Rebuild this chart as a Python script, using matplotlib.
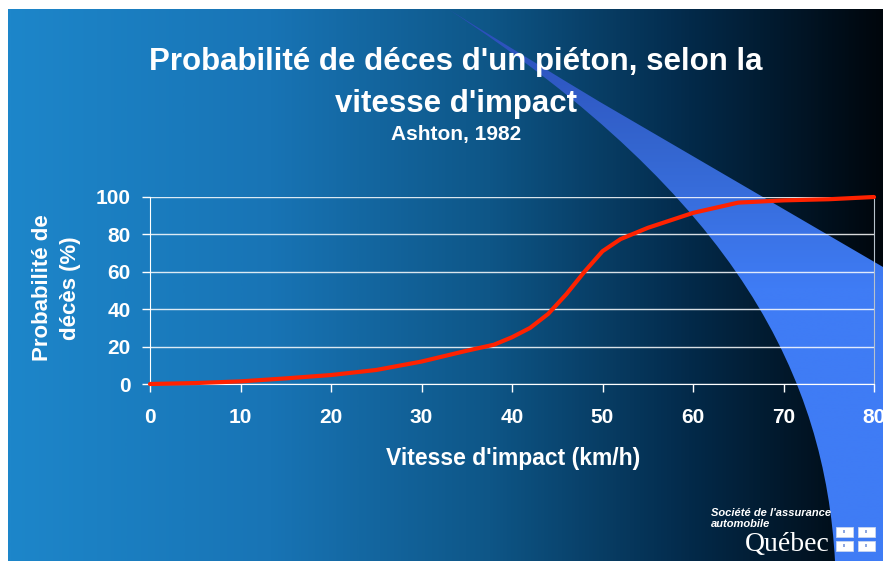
import numpy as np
import matplotlib
matplotlib.use('Agg')
import matplotlib.pyplot as plt
from matplotlib.path import Path
from matplotlib.patches import PathPatch, Rectangle
from matplotlib.colors import LinearSegmentedColormap

plt.rcParams['font.family'] = ['Liberation Sans', 'DejaVu Sans']

# Ashton (1982): probability of pedestrian death vs impact speed
speeds = [0, 5, 10, 15, 20, 25, 30, 35, 38, 40, 42, 44, 46, 48, 50, 52, 55, 60, 65, 70, 75, 80]
deaths = [0, 0.5, 1.4, 3, 4.8, 7.5, 12, 17.8, 21, 25, 30, 37.5, 48, 60, 71, 77.5, 83.5, 91.5, 97, 98.2, 98.8, 100]

x_ticks = list(range(0, 81, 10))
y_ticks = list(range(0, 101, 20))

W, H = 883, 561
fig = plt.figure(figsize=(W / 100, H / 100), dpi=100, facecolor='white')

# slide background, in pixel coords (y down)
bg = fig.add_axes([0, 0, 1, 1])
bg.set_xlim(0, W)
bg.set_ylim(H, 0)
bg.axis('off')

slide_cmap = LinearSegmentedColormap.from_list(
    'slide', [(0, '#1d86ca'), (0.3, '#1874b5'), (0.55, '#0e5687'),
              (0.78, '#032a4a'), (1, '#00060c')])
bg.imshow(np.linspace(0, 1, 512)[None, :], cmap=slide_cmap,
          extent=(8, W, H, 9), aspect='auto', zorder=0)

# blue swoosh on the right
verts = [(448, 9), (740, 200), (825, 380), (835, H), (W, H), (W, 267),
         (600, 102), (530, 60), (448, 9), (448, 9)]
codes = [Path.MOVETO, Path.CURVE4, Path.CURVE4, Path.CURVE4,
         Path.LINETO, Path.LINETO, Path.LINETO, Path.CURVE3, Path.CURVE3,
         Path.CLOSEPOLY]
swoosh = PathPatch(Path(verts, codes), facecolor='none', edgecolor='none')
bg.add_patch(swoosh)
swoosh_cmap = LinearSegmentedColormap.from_list('sw', ['#2b4cb8', '#3466d0', '#3f7cf5'])
yy = np.linspace(9, H, 400)
shade = np.clip((yy - 9) / 280, 0, 1)[:, None]
im = bg.imshow(shade, cmap=swoosh_cmap, extent=(440, W, H, 9), aspect='auto', zorder=1)
im.set_clip_path(swoosh)

# titles
bg.text(456, 70, "Probabilité de déces d'un piéton, selon la", ha='center', va='baseline',
        fontsize=22.5, fontweight='bold', color='white', zorder=5)
bg.text(456, 112, "vitesse d'impact", ha='center', va='baseline',
        fontsize=22.5, fontweight='bold', color='white', zorder=5)
bg.text(456, 140, "Ashton, 1982", ha='center', va='baseline',
        fontsize=15, fontweight='bold', color='white', zorder=5)

# logo
bg.text(711, 516, "Société de l'assurance", ha='left', va='baseline',
        fontsize=8, fontweight='bold', style='italic', color='white', zorder=5)
bg.text(711, 527, "automobile", ha='left', va='baseline',
        fontsize=8, fontweight='bold', style='italic', color='white', zorder=5)
bg.text(830, 551, "Québec", ha='right', va='baseline', fontsize=20,
        family='Liberation Serif', color='white', zorder=5)
for sx in (836, 858):
    for sy in (527, 541):
        bg.add_patch(Rectangle((sx, sy), 17, 10, facecolor='white',
                               edgecolor='#c8d6f0', lw=0.6, zorder=5))
        bg.add_patch(Rectangle((sx + 7, sy + 3), 2, 3, facecolor='#8fa8e0',
                               edgecolor='none', zorder=6))

# chart
ax = fig.add_axes([150 / W, 1 - 384 / H, 724 / W, 187 / H])
ax.set_facecolor('none')
ax.plot(speeds, deaths, color='#ff2200', lw=3, solid_capstyle='round',
        solid_joinstyle='round', zorder=3, clip_on=False)
ax.set_xlim(0, 80)
ax.set_ylim(0, 100)
ax.set_xticks(x_ticks)
ax.set_yticks(y_ticks)
ax.grid(axis='y', color='white', lw=1, alpha=0.85)
ax.set_axisbelow(True)
for side in ('left', 'bottom'):
    ax.spines[side].set_color('white')
ax.spines['right'].set_color('#b8c2cc')
ax.spines['top'].set_visible(False)
ax.tick_params(colors='white', length=6, width=1, labelsize=15)
ax.tick_params(axis='x', pad=11)
ax.tick_params(axis='y', pad=8)
for lbl in ax.get_xticklabels() + ax.get_yticklabels():
    lbl.set_fontweight('bold')

ax.set_xlabel("Vitesse d'impact (km/h)", fontsize=16.5, fontweight='bold',
              color='white', va='center')
ax.xaxis.set_label_coords(0.501, -0.396)
ax.set_ylabel("Probabilité de\ndécès (%)", fontsize=16, fontweight='bold',
              color='white', va='center', ha='center', multialignment='center',
              linespacing=1.4)
ax.yaxis.set_label_coords(-0.129, 0.513)

fig.savefig('out.png', dpi=100, facecolor='white')
